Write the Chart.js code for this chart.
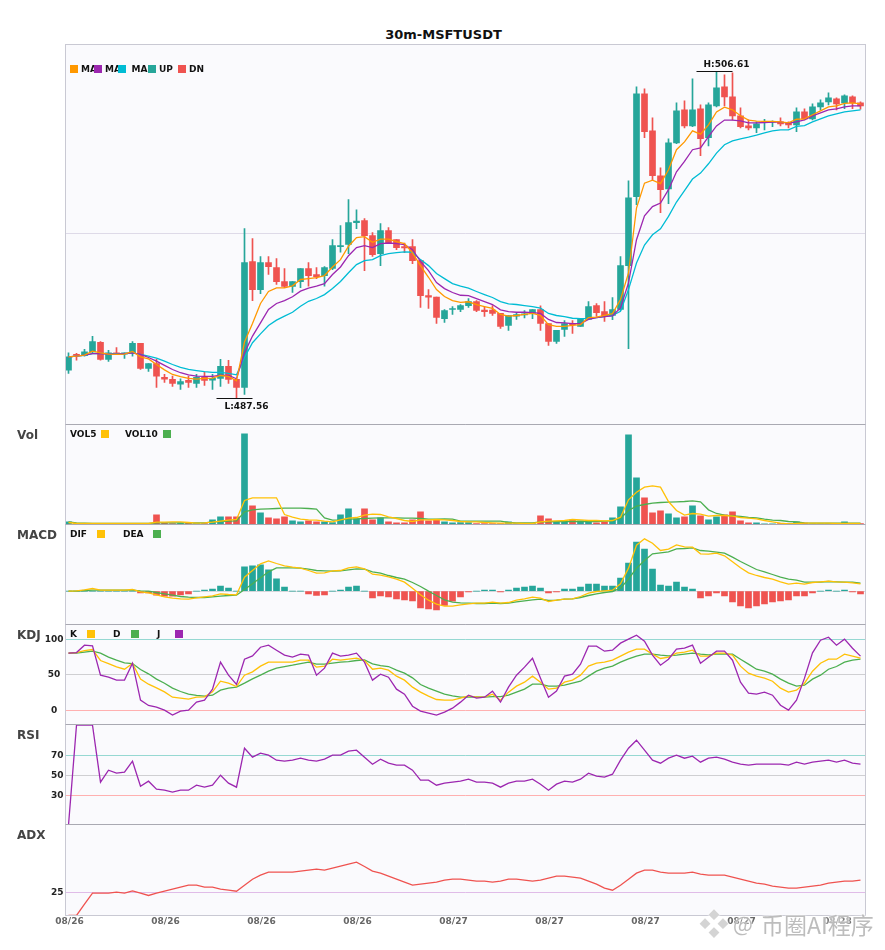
<!DOCTYPE html>
<html>
<head>
<meta charset="utf-8">
<title>30m-MSFTUSDT</title>
<script src="https://cdn.jsdelivr.net/npm/chart.js@4/dist/chart.umd.min.js"></script>
<style>
  html, body { margin: 0; padding: 0; background: #fff; }
  #page { position: relative; width: 885px; height: 950px; overflow: hidden; font-family: "DejaVu Sans", sans-serif; }
  #page canvas { position: absolute; left: 0; }
  .txt { position: absolute; white-space: nowrap; font-weight: bold; line-height: 12px; }
  .legend { font-size: 9px; color: #111; }
  .panel-name { font-size: 12px; color: #444; line-height: 14px; }
  .sq { position: absolute; width: 8px; height: 8px; }
  #title { position: absolute; left: 0; width: 887px; top: 27px; text-align: center; font-size: 13px; font-weight: bold; color: #111; line-height: 16px; }
  .mark { position: absolute; font-family: "Noto Sans CJK SC", sans-serif; line-height: 30px; color: rgba(172,172,172,0.8); text-shadow: 0 0 2px #fff, 0 0 3px #fff; white-space: nowrap; }
</style>
</head>
<body>
<div id="page">
  <div id="title">30m-MSFTUSDT</div>
</div>
<script>
// 100 candles, 30 minutes each
const tickDates = ['08/26', '08/26', '08/26', '08/26', '08/27', '08/27', '08/27', '08/27', '08/28'];

const opens = [489.17,490.09,490.01,490.24,490.79,489.80,490.18,490.11,490.18,490.73,
  489.27,489.56,488.75,488.63,488.36,488.57,488.40,488.75,488.59,488.69,
  489.39,488.63,488.16,495.51,493.87,495.45,495.16,494.34,494.05,494.34,
  495.10,494.75,494.69,495.10,496.38,496.50,497.78,497.89,497.02,495.97,
  497.31,496.79,496.38,496.38,495.56,493.52,493.43,492.18,492.71,492.71,
  492.94,493.17,492.67,492.67,492.48,491.78,492.32,492.40,492.48,492.71,
  491.89,490.84,491.54,491.89,491.72,492.13,492.94,492.59,492.36,492.71,
  495.27,499.29,505.29,503.13,500.51,499.75,502.43,504.36,503.42,504.42,
  502.73,504.59,505.70,505.11,504.01,503.42,503.31,503.62,503.64,503.66,
  503.60,503.48,504.24,503.83,504.53,504.82,505.00,504.76,505.11,504.76];
const closes = [489.95,490.03,490.24,490.84,489.80,490.18,490.11,490.18,490.73,489.27,
  489.56,488.82,488.65,488.40,488.51,488.46,488.75,488.57,488.69,489.39,
  488.63,488.16,495.45,493.87,495.45,495.21,494.34,494.05,494.34,495.10,
  494.69,494.63,495.16,496.44,496.44,497.78,497.87,497.02,495.91,497.31,
  496.61,496.32,496.30,495.56,493.52,493.43,492.24,492.65,492.77,492.94,
  493.17,492.65,492.59,492.48,491.72,492.36,492.42,492.46,492.71,491.89,
  490.84,491.49,491.89,491.83,492.13,492.88,492.53,492.30,492.71,495.27,
  499.23,505.29,503.08,500.51,499.70,502.43,504.30,503.42,504.36,502.67,
  504.65,505.64,505.11,504.01,503.37,503.31,503.54,503.66,503.68,503.54,
  503.48,504.24,503.83,504.53,504.76,505.06,504.71,505.17,504.76,504.59];
const highs = [490.18,490.15,490.38,491.14,490.84,490.32,490.49,490.18,490.84,490.73,
  489.56,489.80,488.92,488.82,488.67,488.82,488.92,489.06,488.92,489.80,
  489.74,488.63,497.43,496.85,495.80,495.80,495.68,495.10,494.34,495.10,
  495.45,495.16,495.21,496.79,497.60,499.12,498.53,498.01,497.19,497.72,
  497.49,496.79,496.59,496.79,495.56,493.87,493.43,492.71,492.88,493.00,
  493.35,493.23,492.83,492.94,492.48,492.36,492.48,492.65,492.71,492.92,
  491.89,491.49,492.07,492.07,492.18,493.17,493.06,493.17,493.40,495.79,
  500.22,505.70,505.58,503.89,500.98,502.67,504.76,504.88,506.16,504.65,
  504.76,506.61,506.40,506.51,504.47,503.77,503.66,503.81,503.72,503.89,
  503.66,504.47,504.42,504.71,504.94,505.35,505.06,505.23,505.17,504.82];
const lows = [488.98,489.76,489.99,490.18,489.76,489.68,490.07,489.85,489.99,489.21,
  489.10,488.16,488.46,488.22,488.05,488.16,488.16,488.28,488.05,488.22,
  488.40,487.56,487.76,493.23,493.64,494.75,494.17,493.99,493.70,493.99,
  494.07,494.51,494.07,495.04,496.05,495.97,497.43,494.98,495.80,495.27,
  496.59,496.20,496.03,495.39,492.83,492.77,491.89,491.95,492.42,492.59,
  492.83,492.59,492.30,492.36,491.60,491.49,492.13,492.22,492.18,491.49,
  490.61,490.73,491.14,491.31,491.72,492.13,492.30,492.01,492.12,492.65,
  490.43,498.82,502.73,500.28,498.36,498.88,502.38,503.31,503.37,501.68,
  502.26,504.53,504.59,503.77,503.31,503.19,503.02,503.19,503.37,503.42,
  503.31,503.08,503.77,503.77,504.36,504.65,504.36,504.42,504.42,504.40];

const ma5 = [489.95,489.99,490.05,490.28,490.18,490.11,490.09,490.11,490.26,489.95,
  489.83,489.50,489.19,488.92,488.79,488.69,488.65,488.69,488.71,488.86,
  488.81,488.55,490.81,491.89,493.06,493.76,493.97,493.97,494.09,494.46,
  494.51,494.57,494.69,495.19,495.62,496.40,496.90,496.96,496.63,496.81,
  496.81,496.67,496.55,496.01,495.27,494.59,493.87,493.47,493.23,493.12,
  493.16,493.00,492.88,492.77,492.42,492.32,492.36,492.42,492.48,492.36,
  491.83,491.72,491.72,491.78,491.83,492.24,492.26,492.36,492.47,493.29,
  494.84,498.63,500.08,500.26,500.05,500.86,502.03,502.49,503.13,502.94,
  503.48,504.24,504.51,504.36,504.01,503.76,503.70,503.68,503.68,503.66,
  503.60,503.81,503.83,504.07,504.30,504.53,504.59,504.73,504.76,504.71];
const ma10 = [489.95,489.99,490.05,490.13,490.13,490.11,490.11,490.13,490.18,490.09,
  489.91,489.70,489.45,489.21,489.02,488.90,488.82,488.81,488.81,488.88,
  488.86,488.67,490.18,491.16,491.93,492.71,493.06,493.23,493.45,493.78,
  493.95,494.07,494.22,494.75,495.19,495.85,496.32,496.44,496.32,496.55,
  496.59,496.55,496.50,496.20,495.52,494.98,494.28,493.93,493.70,493.54,
  493.52,493.35,493.17,493.00,492.69,492.59,492.55,492.55,492.53,492.48,
  492.13,491.95,491.93,491.89,491.89,492.13,492.24,492.30,492.34,492.80,
  494.26,496.78,498.18,498.71,498.92,499.70,500.74,501.35,502.03,502.14,
  502.80,503.42,503.76,503.76,503.72,503.60,503.60,503.62,503.64,503.64,
  503.58,503.66,503.77,504.01,504.18,504.36,504.42,504.53,504.59,504.59];
const ma20 = [489.95,489.99,490.03,490.13,490.15,490.13,490.13,490.13,490.18,490.09,
  489.99,489.87,489.70,489.50,489.33,489.21,489.14,489.08,489.04,489.04,
  488.98,488.90,489.91,490.77,491.29,491.78,492.09,492.32,492.55,492.90,
  493.19,493.35,493.58,493.93,494.34,494.85,495.33,495.56,495.62,495.85,
  495.97,496.03,496.07,496.05,495.62,495.27,494.81,494.51,494.22,494.07,
  493.95,493.76,493.58,493.41,493.17,493.04,493.00,492.94,492.88,492.79,
  492.48,492.36,492.30,492.20,492.18,492.18,492.24,492.30,492.36,492.61,
  493.87,495.42,496.47,497.07,497.42,498.14,498.98,499.64,500.32,500.67,
  501.21,501.83,502.32,502.55,502.67,502.76,502.88,503.02,503.13,503.19,
  503.19,503.39,503.44,503.66,503.83,504.01,504.12,504.24,504.30,504.36];

const volumes = [40,10,10,15,10,10,10,10,15,15,
  10,145,20,15,20,25,15,15,70,115,
  115,115,1360,280,175,100,85,115,55,40,
  55,40,40,30,145,235,85,235,70,100,
  40,25,25,70,190,55,70,40,25,30,
  30,15,15,15,15,40,15,15,15,130,
  85,40,55,70,55,55,25,40,100,265,
  1345,700,400,175,205,160,100,115,280,130,
  70,115,145,190,55,25,25,10,10,15,
  15,40,20,10,10,10,10,40,15,15];
const vol5 = [30,15,15,15,15,15,15,15,15,15,
  15,35,35,40,40,30,20,25,35,50,
  65,75,360,400,400,400,400,150,110,80,
  70,65,50,40,70,95,105,140,155,150,
  115,90,60,45,70,70,75,70,60,45,
  40,40,30,25,20,20,20,15,15,40,
  50,55,60,75,70,60,60,55,60,110,
  370,485,560,580,560,345,210,140,165,155,
  125,135,135,125,105,95,85,60,40,20,
  10,15,20,20,20,20,15,15,15,15];
const vol10 = [40,25,20,15,15,15,15,15,15,15,
  15,25,25,25,25,25,25,25,40,45,
  50,55,190,220,230,235,240,245,245,245,
  240,230,100,65,70,80,85,90,95,100,
  100,100,95,95,90,80,80,85,80,50,
  50,50,50,50,50,30,25,25,25,40,
  40,45,45,45,45,45,45,50,55,90,
  210,275,300,320,330,335,340,345,355,340,
  220,165,140,130,120,105,100,80,65,60,
  45,40,25,20,20,20,20,20,20,20];

const macdHist = [0,0,0,0,0,0,0,0,0,-0.05,
  -0.05,-0.12,-0.15,-0.15,-0.11,-0.08,0,0.03,0.06,0.15,
  0.09,0,0.73,0.76,0.79,0.64,0.37,0.12,0,0,
  -0.08,-0.13,-0.11,0,0.03,0.12,0.15,0,-0.20,-0.14,
  -0.17,-0.23,-0.26,-0.29,-0.50,-0.53,-0.56,-0.43,-0.30,-0.17,
  -0.02,0,0.03,0.03,-0.02,0.03,0.09,0.12,0.15,0.09,
  -0.05,-0.02,0.06,0.06,0.12,0.21,0.21,0.15,0.15,0.39,
  0.84,1.47,1.26,0.66,0.18,0.15,0.27,0.12,0.06,-0.20,
  -0.14,-0.05,-0.14,-0.32,-0.44,-0.50,-0.44,-0.38,-0.32,-0.29,
  -0.26,-0.14,-0.14,-0.05,0,0.03,0,0.03,-0.02,-0.08];
const dif = [0,0.01,0.04,0.08,0.03,0.03,0.03,0.03,0.05,-0.02,
  -0.05,-0.11,-0.17,-0.21,-0.23,-0.24,-0.20,-0.17,-0.14,-0.08,
  -0.10,-0.11,0.42,0.62,0.82,0.91,0.83,0.76,0.72,0.69,
  0.62,0.54,0.55,0.61,0.62,0.70,0.73,0.67,0.51,0.48,
  0.43,0.36,0.27,0.09,-0.11,-0.27,-0.39,-0.45,-0.45,-0.41,
  -0.38,-0.36,-0.36,-0.33,-0.36,-0.34,-0.27,-0.23,-0.18,-0.21,
  -0.31,-0.27,-0.24,-0.23,-0.16,-0.06,-0.01,0.01,0.03,0.22,
  0.69,1.38,1.57,1.44,1.22,1.26,1.39,1.33,1.32,1.12,
  1.11,1.14,1.06,0.88,0.70,0.55,0.47,0.41,0.36,0.28,
  0.21,0.24,0.21,0.26,0.28,0.30,0.28,0.27,0.25,0.22];
const dea = [0,0,0.02,0.03,0.03,0.03,0.03,0.03,0.03,0.01,
  0,-0.04,-0.08,-0.12,-0.16,-0.18,-0.19,-0.19,-0.17,-0.15,
  -0.13,-0.12,0.05,0.22,0.40,0.58,0.70,0.70,0.70,0.69,
  0.66,0.62,0.61,0.60,0.61,0.64,0.67,0.66,0.58,0.54,
  0.47,0.41,0.36,0.26,0.14,0,-0.13,-0.26,-0.33,-0.35,
  -0.36,-0.37,-0.37,-0.36,-0.37,-0.36,-0.32,-0.29,-0.26,-0.24,
  -0.28,-0.27,-0.24,-0.23,-0.19,-0.13,-0.08,-0.04,-0.01,0.09,
  0.36,0.69,0.92,1.12,1.15,1.18,1.27,1.28,1.30,1.22,
  1.20,1.17,1.14,1.02,0.89,0.77,0.65,0.58,0.50,0.42,
  0.36,0.33,0.27,0.27,0.27,0.29,0.28,0.27,0.27,0.24];

const kLine = [80.3,81.2,84.0,85.4,70.0,65.7,61.0,57.7,65.7,43.7,
  36.6,31.5,25.8,18.3,16.9,15.5,18.3,18.8,25.8,40.8,
  38.0,33.3,49.3,54.0,62.0,67.6,67.6,67.6,67.6,70.4,
  70.4,60.6,62.0,71.8,70.4,71.8,73.2,70.0,57.7,59.2,
  56.3,47.9,42.3,32.4,25.4,19.7,15.0,14.1,14.1,16.9,
  20.2,18.3,18.3,22.5,14.1,25.4,33.8,39.4,47.9,39.4,
  29.6,31.0,39.4,42.3,49.3,62.0,66.2,67.6,70.4,76.1,
  81.7,85.9,85.9,78.9,72.8,74.7,80.3,81.7,84.5,76.1,
  76.1,80.3,80.3,77.5,62.0,52.1,47.9,45.1,40.8,31.0,
  25.4,28.2,38.0,54.9,66.2,71.8,71.8,78.9,76.1,73.2];
const dLine = [80.3,80.3,81.7,83.1,80.3,74.7,70.4,66.7,65.7,57.3,
  51.2,43.7,38.0,31.0,26.3,22.5,20.7,19.7,21.1,28.2,
  31.0,32.4,38.0,44.1,49.3,54.9,59.2,61.5,63.4,65.7,
  67.6,64.8,64.8,66.2,67.6,68.5,70.0,70.9,65.3,62.9,
  61.5,56.3,52.1,45.5,36.2,31.0,26.8,22.5,20.2,18.3,
  18.3,18.8,18.3,19.2,19.2,21.1,25.4,29.6,36.6,36.6,
  33.8,33.8,35.2,38.0,40.8,47.9,54.9,59.2,62.0,67.6,
  72.3,76.1,78.9,78.9,77.5,76.5,77.5,78.9,80.3,78.9,
  77.9,78.9,78.9,78.9,71.8,64.8,57.7,54.9,50.7,43.7,
  38.0,33.8,35.2,43.7,49.3,57.7,61.5,67.6,70.4,71.8];
const jLine = [80.3,81.2,91.6,90.6,49.3,46.5,42.3,42.3,66.2,14.1,
  6.6,4.2,0,-7.0,-1.4,0,11.3,14.1,29.6,67.6,
  49.3,36.2,71.8,76.5,88.7,91.6,84.5,77.5,74.7,78.9,
  77.5,49.3,59.2,80.3,76.1,77.5,80.3,67.6,42.3,50.7,
  46.5,29.6,22.5,5.6,-1.4,-4.2,-7.0,-2.8,2.8,11.3,
  21.1,16.9,18.3,26.8,11.3,32.4,49.3,60.6,73.2,45.1,
  18.3,26.8,47.9,50.7,64.8,90.1,90.1,83.1,84.5,94.4,
  100.0,105.6,97.2,77.5,63.4,71.8,85.9,87.3,91.6,66.2,
  74.7,83.1,83.1,70.4,39.4,23.9,22.5,25.4,21.1,7.0,
  0,14.1,45.1,80.8,98.6,102.8,91.6,100.0,87.3,76.1];

const rsi = [0,100,100,100,43,55,52,53,64,39,
  44,36,35,33,35,35,40,38,40,50,
  42,38,77,68,72,70,65,64,65,67,
  65,64,66,70,70,74,75,68,61,66,
  62,60,60,55,45,45,40,42,43,44,
  46,43,43,42,38,42,44,44,46,41,
  35,41,44,43,46,52,49,48,51,65,
  77,85,75,65,62,67,70,67,69,63,
  67,68,66,63,61,60,61,61,61,61,
  60,63,61,63,64,65,63,65,62,61];
const adx = [0,0,12.4,24.5,24.5,24.5,25.6,24.5,27.1,24.5,
  22.0,24.5,26.7,28.9,31.1,33.3,33.3,31.1,31.1,28.9,
  27.8,26.7,33.3,39.9,44.3,47.6,47.6,47.6,47.6,48.7,
  49.8,50.9,49.8,52.0,54.2,56.4,58.6,53.8,48.7,46.5,
  43.2,39.9,36.6,33.3,34.4,35.5,36.6,38.8,39.9,39.9,
  38.8,37.7,37.7,36.6,37.7,39.9,39.9,38.8,37.7,38.8,
  41.0,43.2,43.2,42.1,41.0,37.7,34.4,30.0,27.8,33.3,
  39.9,46.5,49.8,49.8,47.6,46.5,46.5,46.5,47.6,45.4,
  44.3,44.3,44.3,42.1,39.9,37.7,35.5,34.4,32.2,31.1,
  30.0,30.0,31.1,32.2,33.3,35.5,36.6,37.7,37.7,38.8];

const UP = '#26a69a';
const DN = '#ef5350';
const page = document.getElementById('page');

function xy(values) {
  return values.map((v, i) => ({ x: i, y: v }));
}

function line(values, color, order) {
  return { type: 'line', data: xy(values), borderColor: color, borderWidth: 1.3, pointRadius: 0, tension: 0, order: order };
}

function bars(data, colors, thickness, order) {
  return { type: 'bar', data: data, backgroundColor: colors, barThickness: thickness, grouped: false, order: order };
}

// background and frame of one panel
function framePlugin(topColor) {
  return {
    id: 'frame',
    beforeDraw(chart) {
      const a = chart.chartArea;
      chart.ctx.fillStyle = '#fafafd';
      chart.ctx.fillRect(a.left, a.top, a.right - a.left, a.bottom - a.top);
    },
    afterDraw(chart) {
      const a = chart.chartArea;
      const c = chart.ctx;
      c.save();
      c.lineWidth = 1;
      c.strokeStyle = '#c9c9d3';
      c.strokeRect(a.left, a.top, a.right - a.left, a.bottom - a.top);
      c.strokeStyle = topColor;
      c.beginPath();
      c.moveTo(a.left, a.top);
      c.lineTo(a.right, a.top);
      c.stroke();
      c.restore();
    }
  };
}

// top and bottom are the pixel rows of the plot area on the page
function panel(top, bottom, datasets, yMin, yMax, gridTicks, extra) {
  extra = extra || {};
  const cv = document.createElement('canvas');
  const cvTop = Math.floor(top) - 1;
  const cvBottom = extra.xLabels ? 950 : Math.ceil(bottom) + 1;
  cv.width = 885;
  cv.height = cvBottom - cvTop;
  cv.style.top = cvTop + 'px';
  page.appendChild(cv);
  const colorOf = {};
  gridTicks.forEach(t => { colorOf[t.value] = t.color; });
  return new Chart(cv.getContext('2d'), {
    data: { datasets: datasets },
    plugins: [framePlugin(extra.topColor || '#a9a9b2')].concat(extra.plugins || []),
    options: {
      responsive: false,
      animation: false,
      layout: { padding: { top: top - cvTop, bottom: extra.xLabels ? 0 : cvBottom - bottom, right: 19.5, left: 0 } },
      plugins: { legend: { display: false }, tooltip: { enabled: false } },
      scales: {
        x: {
          type: 'linear',
          offset: false,
          min: -0.375,
          max: 99.625,
          display: !!extra.xLabels,
          grid: { display: false, drawTicks: false, offset: false },
          border: { display: false },
          afterBuildTicks(scale) {
            scale.ticks = tickDates.map((d, i) => ({ value: i * 12 }));
          },
          afterFit(scale) {
            scale.paddingLeft = 0;
            scale.paddingRight = 0;
            if (extra.xLabels) scale.height = 950 - bottom;
          },
          ticks: {
            autoSkip: false,
            maxRotation: 0,
            padding: 1,
            labelOffset: 1,
            color: '#666',
            font: { family: 'DejaVu Sans', size: 9, weight: 'bold' },
            callback: (v) => tickDates[v / 12]
          }
        },
        y: {
          min: yMin,
          max: yMax,
          grid: { drawTicks: false, color: (ctx) => (ctx.tick ? colorOf[ctx.tick.value] : 'transparent') },
          border: { display: false },
          afterBuildTicks(scale) {
            scale.ticks = gridTicks.map(t => ({ value: t.value }));
          },
          afterFit(scale) {
            scale.paddingTop = 0;
            scale.paddingBottom = 0;
            scale.width = 65.5;
          },
          ticks: {
            autoSkip: false,
            crossAlign: 'center',
            padding: 2,
            color: '#222',
            font: { family: 'DejaVu Sans', size: 9, weight: 'bold' },
            callback: (v) => (extra.showTicks ? String(v) : '')
          }
        }
      }
    }
  });
}

// H: and L: marks on the main panel
const extremes = {
  id: 'extremes',
  afterDatasetsDraw(chart) {
    const c = chart.ctx;
    const hi = highs.indexOf(Math.max(...highs));
    const lo = lows.indexOf(Math.min(...lows));
    const marks = [
      { x: chart.scales.x.getPixelForValue(hi), y: chart.scales.y.getPixelForValue(highs[hi]), t: 'H:' + highs[hi].toFixed(2), dy: -7 },
      { x: chart.scales.x.getPixelForValue(lo), y: chart.scales.y.getPixelForValue(lows[lo]), t: 'L:' + lows[lo].toFixed(2), dy: 8.5 }
    ];
    c.save();
    c.strokeStyle = '#111';
    c.lineWidth = 1;
    c.fillStyle = '#111';
    c.font = 'bold 9px "DejaVu Sans"';
    c.textAlign = 'center';
    c.textBaseline = 'middle';
    marks.forEach(m => {
      c.beginPath();
      c.moveTo(m.x - 20, Math.round(m.y) + 0.5);
      c.lineTo(m.x + 16, Math.round(m.y) + 0.5);
      c.stroke();
      c.fillText(m.t, m.x + 10, m.y + m.dy);
    });
    c.restore();
  }
};

// main panel: candles and three moving averages
const candleColors = closes.map((c, i) => (c >= opens[i] ? UP : DN));
panel(44.5, 424.5, [
  line(ma5, '#ff9800', 1),
  line(ma10, '#9c27b0', 2),
  line(ma20, '#00bcd4', 3),
  bars(opens.map((o, i) => ({ x: i, y: [o, closes[i]] })), candleColors, 6, 4),
  bars(lows.map((l, i) => ({ x: i, y: [l, highs[i]] })), candleColors, 1, 5)
], 486.0, 508.17, [{ value: 497.13, color: '#dedae8' }], { plugins: [extremes], topColor: '#c9c9d3' });

// volume
panel(424.5, 524.5, [
  line(vol5, '#ffc107', 1),
  line(vol10, '#4caf50', 2),
  bars(xy(volumes), candleColors, 6, 3)
], 0, 1500, [{ value: 0, color: 'transparent' }]);

// MACD
panel(524.5, 624.5, [
  line(dif, '#ffc107', 1),
  line(dea, '#4caf50', 2),
  bars(xy(macdHist), macdHist.map(v => (v >= 0 ? UP : DN)), 6, 3)
], -1, 2, [{ value: 0, color: '#d6d6da' }]);

// KDJ
panel(624.5, 724.5, [
  line(jLine, '#9c27b0', 1),
  line(kLine, '#ffc107', 2),
  line(dLine, '#4caf50', 3)
], -20.2, 120.7, [
  { value: 100, color: '#96d8d2' },
  { value: 50, color: '#cfcfd2' },
  { value: 0, color: '#ffb0b0' }
], { showTicks: true });

// RSI
panel(724.5, 824.5, [
  line(rsi, '#9c27b0', 1)
], 0.7, 100.7, [
  { value: 70, color: '#96d8d2' },
  { value: 50, color: '#cfcfd2' },
  { value: 30, color: '#ffb0b0' }
], { showTicks: true });

// ADX, the only panel with date labels
panel(824.5, 915.5, [
  line(adx, '#ef5350', 1)
], 0, 100, [{ value: 25, color: '#e0bce8' }], { showTicks: true, xLabels: true });

// panel names and legends as plain text
function label(text, x, y, cls) {
  const d = document.createElement('div');
  d.className = 'txt ' + cls;
  d.textContent = text;
  d.style.left = x + 'px';
  d.style.top = y + 'px';
  page.appendChild(d);
}

function swatch(x, y, color) {
  const d = document.createElement('div');
  d.className = 'sq';
  d.style.left = x + 'px';
  d.style.top = y + 'px';
  d.style.background = color;
  page.appendChild(d);
}

[['Vol', 428], ['MACD', 528], ['KDJ', 628], ['RSI', 728], ['ADX', 828]].forEach(p => label(p[0], 17, p[1], 'panel-name'));

[['MA', 81], ['MA', 105], ['MA', 131.5], ['UP', 159], ['DN', 189]].forEach(p => label(p[0], p[1], 63, 'legend'));
[[70, '#ff9800'], [94, '#9c27b0'], [118, '#00bcd4'], [148, UP], [178, DN]].forEach(p => swatch(p[0], 65, p[1]));

label('VOL5', 70, 428, 'legend');
label('VOL10', 125, 428, 'legend');
swatch(101, 429.5, '#ffc107');
swatch(163, 429.5, '#4caf50');

label('DIF', 70, 528, 'legend');
label('DEA', 123, 528, 'legend');
swatch(97, 529.5, '#ffc107');
swatch(153, 529.5, '#4caf50');

label('K', 70, 628, 'legend');
label('D', 113, 628, 'legend');
label('J', 157, 628, 'legend');
swatch(87, 629.5, '#ffc107');
swatch(131, 629.5, '#4caf50');
swatch(175, 629.5, '#9c27b0');

// watermark over the bottom right corner
function markText(text, x, y, size, color) {
  const d = document.createElement('div');
  d.className = 'mark';
  d.textContent = text;
  d.style.left = x + 'px';
  d.style.top = y + 'px';
  d.style.fontSize = size + 'px';
  if (color) d.style.color = color;
  page.appendChild(d);
}
markText('❖', 699, 907, 30, 'rgba(205,205,205,0.85)');
markText('@', 733, 908, 21);
markText('币圈AI程序', 761, 909, 23);
</script>
</body>
</html>
